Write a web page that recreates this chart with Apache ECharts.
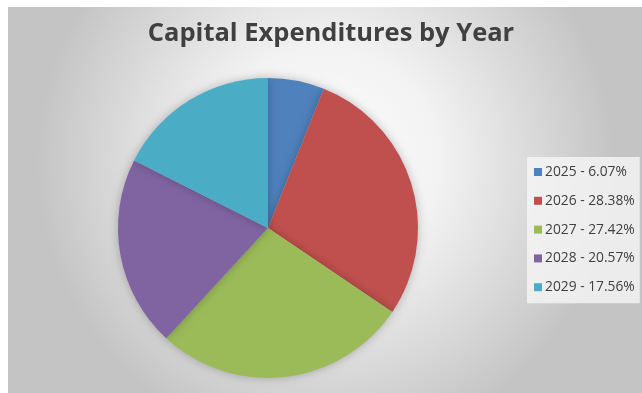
<!DOCTYPE html>
<html>
<head>
<meta charset="utf-8">
<script src="https://cdn.jsdelivr.net/npm/echarts@6/dist/echarts.min.js"></script>
<style>
  html, body { margin: 0; padding: 0; background: #ffffff; }
  #chart { width: 642px; height: 393px; }
</style>
</head>
<body>
<div id="chart"></div>
<script>
// Capital expenditures share per year
const years = ['2025', '2026', '2027', '2028', '2029'];
const shares = [6.07, 28.38, 27.42, 20.57, 17.56];
const colors = ['#4F81BD', '#C0504D', '#9BBB59', '#8064A2', '#4BACC6'];

const chart = echarts.init(document.getElementById('chart'), null, { renderer: 'canvas' });

const pieData = years.map((y, i) => ({
  name: y,
  value: shares[i],
  itemStyle: { color: colors[i] }
}));

chart.setOption({
  backgroundColor: '#ffffff',
  animation: false,
  graphic: [{
    type: 'rect',
    z: -10,
    silent: true,
    shape: { x: 8, y: 7, width: 634, height: 386 },
    style: {
      fill: {
        type: 'radial', x: 0.5, y: 0.4, r: 0.75,
        colorStops: [
          { offset: 0, color: '#ffffff' },
          { offset: 0.4, color: '#f2f2f2' },
          { offset: 1, color: '#c4c4c4' }
        ]
      }
    }
  }],
  title: {
    text: 'Capital Expenditures by Year',
    left: 326,
    textAlign: 'center',
    top: 16,
    textStyle: {
      fontFamily: 'Open Sans',
      fontWeight: 'bold',
      fontSize: 25.5,
      color: '#404040'
    }
  },
  legend: {
    orient: 'vertical',
    left: 527,
    top: 157,
    icon: 'rect',
    itemWidth: 8,
    itemHeight: 8,
    itemGap: 12.8,
    padding: [7, 5, 8, 7],
    backgroundColor: 'rgba(246,246,246,0.8)',
    formatter: function (name) {
      const i = years.indexOf(name);
      return name + ' - ' + shares[i].toFixed(2) + '%';
    },
    textStyle: {
      fontFamily: 'Open Sans',
      fontSize: 13.8,
      color: '#404040',
      lineHeight: 16,
      padding: [0, 0, 0, -2]
    },
    data: years
  },
  series: [{
    type: 'pie',
    center: [268, 228],
    radius: 150,
    startAngle: 90,
    clockwise: true,
    label: { show: false },
    labelLine: { show: false },
    itemStyle: {
      borderWidth: 0,
      shadowBlur: 10,
      shadowColor: 'rgba(0,0,0,0.25)'
    },
    emphasis: { disabled: true },
    data: pieData
  }]
});
</script>
</body>
</html>
